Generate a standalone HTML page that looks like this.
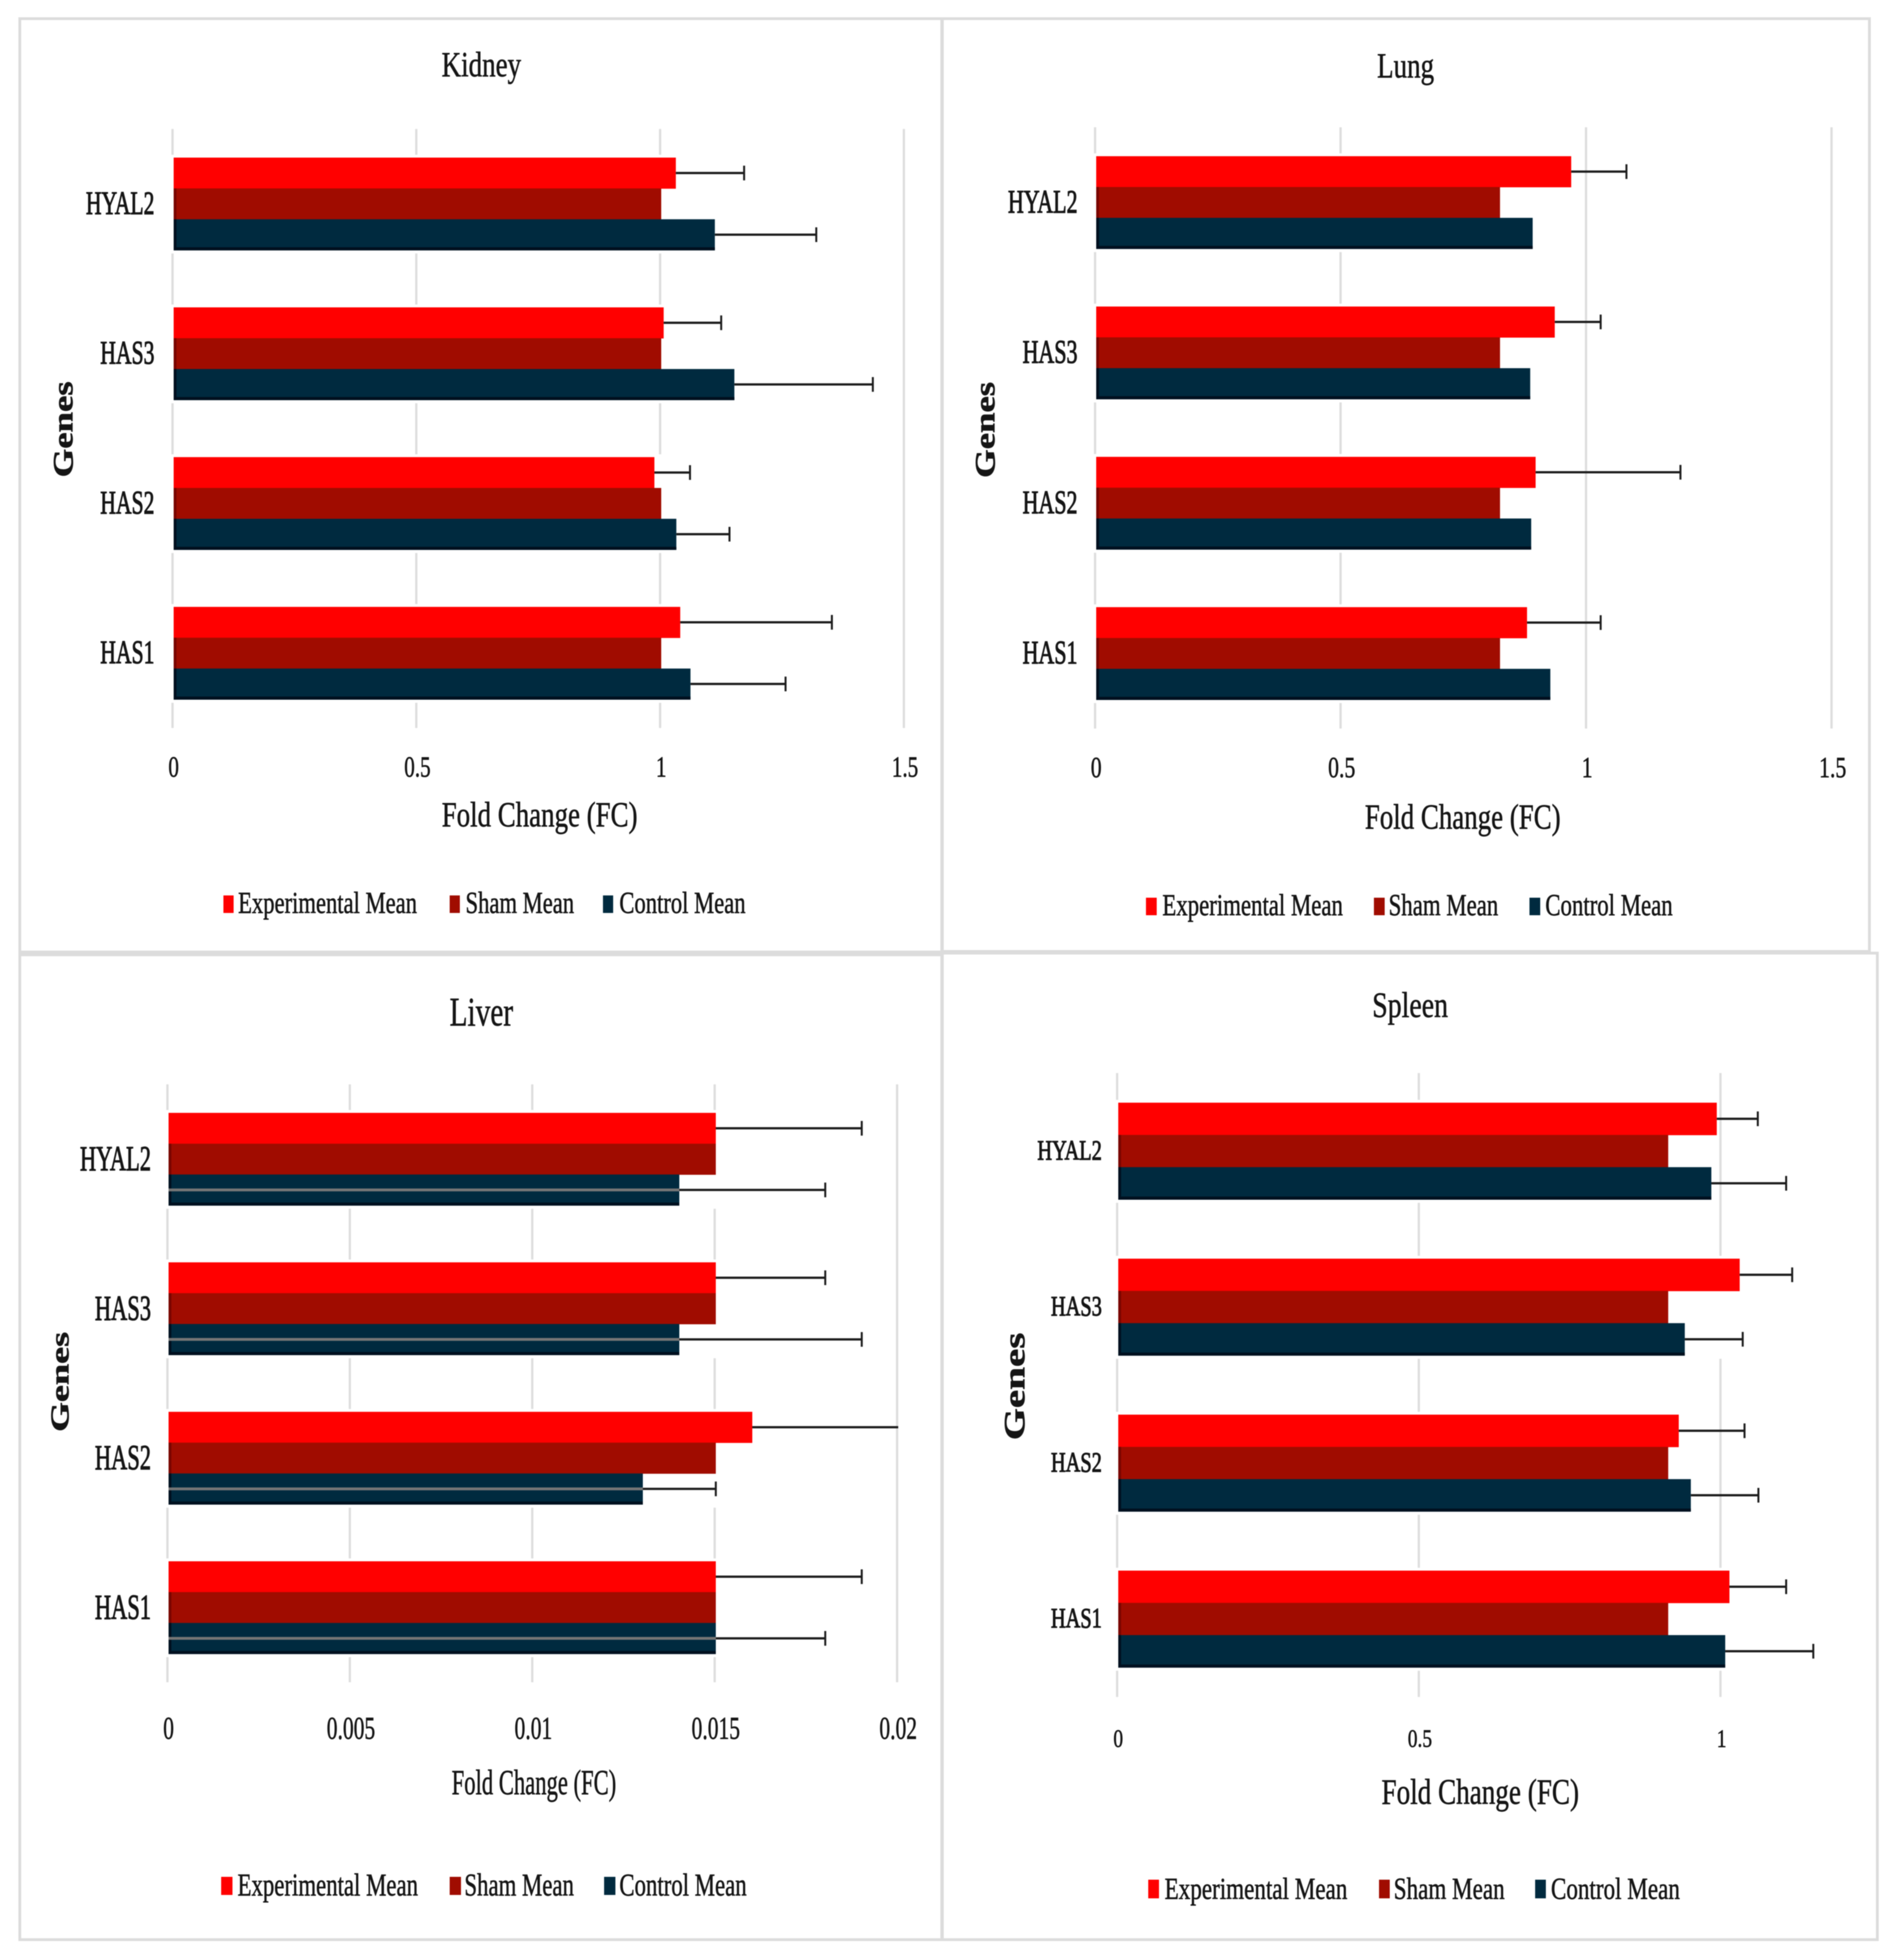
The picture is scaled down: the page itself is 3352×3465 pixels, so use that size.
<!DOCTYPE html>
<html lang="en">
<head>
<meta charset="utf-8">
<title>Gene fold change by organ</title>
<style>
html,body{margin:0;padding:0;background:#fff;}
svg{display:block;filter:blur(0.8px);}
text{font-family:"Liberation Serif","Times New Roman",serif;fill:#151515;stroke:#151515;stroke-width:0.9px;}
</style>
</head>
<body>
<svg id="fig" xmlns="http://www.w3.org/2000/svg" width="3352" height="3465" viewBox="0 0 3352 3465">
<rect x="0" y="0" width="3352" height="3465" fill="#ffffff"/>
</svg>
<script>
// Shared categories and series (categories run bottom to top on the axis)
const categories = ["HAS1", "HAS2", "HAS3", "HYAL2"];
const seriesNames = ["Experimental Mean", "Sham Mean", "Control Mean"];

// Kidney
const kidneyExperimental = [1.039, 0.986, 1.005, 1.03];
const kidneySham = [1, 1, 1, 1];
const kidneyControl = [1.06, 1.031, 1.15, 1.11];
const kidneyExperimentalError = [0.311, 0.073, 0.118, 0.14];
const kidneyControlError = [0.195, 0.109, 0.284, 0.208];
const kidneyTicks = [0, 0.5, 1, 1.5];
const kidneyTickLabels = ["0", "0.5", "1", "1.5"];

// Lung
const lungExperimental = [0.8775, 0.895, 0.934, 0.9675];
const lungSham = [0.8225, 0.8225, 0.8225, 0.8225];
const lungControl = [0.925, 0.886, 0.884, 0.889];
const lungExperimentalError = [0.15, 0.295, 0.0935, 0.1125];
const lungControlError = [0, 0, 0, 0];
const lungTicks = [0, 0.5, 1, 1.5];
const lungTickLabels = ["0", "0.5", "1", "1.5"];

// Liver
const liverExperimental = [0.015, 0.016, 0.015, 0.015];
const liverSham = [0.015, 0.015, 0.015, 0.015];
const liverControl = [0.015, 0.013, 0.014, 0.014];
const liverExperimentalError = [0.004, 0.004, 0.003, 0.004];
const liverControlError = [0.003, 0.002, 0.005, 0.004];
const liverTicks = [0, 0.005, 0.01, 0.015, 0.02];
const liverTickLabels = ["0", "0.005", "0.01", "0.015", "0.02"];

// Spleen
const spleenExperimental = [1.013, 0.929, 1.03, 0.992];
const spleenSham = [0.9115, 0.9115, 0.9115, 0.9115];
const spleenControl = [1.006, 0.949, 0.939, 0.983];
const spleenExperimentalError = [0.094, 0.109, 0.087, 0.068];
const spleenControlError = [0.146, 0.112, 0.096, 0.124];
const spleenTicks = [0, 0.5, 1];
const spleenTickLabels = ["0", "0.5", "1"];

const colors = ["#ff0000", "#a00c00", "#002a3f"];
const SVGNS = "http://www.w3.org/2000/svg";
const fig = document.getElementById("fig");

const panels = [
  {
    id: "kidney", title: "Kidney",
    box: [35, 33, 1665, 1683],
    exp: kidneyExperimental, sham: kidneySham, ctrl: kidneyControl,
    expErr: kidneyExperimentalError, ctrlErr: kidneyControlError,
    ticks: kidneyTicks, tickLabels: kidneyTickLabels,
    domainMax: 1.5, rangeX: [307, 1600], plotY: [228, 1287], barH: 54.5,
    titleGeo: { cx: 851, y: 135, size: 62, sx: 0.77 },
    tickGeo: { y: 1373, size: 52, sx: 0.72 },
    geneGeo: { right: 273, size: 58, sx: 0.66, dy: 18 },
    yTitle: { x: 128, cy: 759, size: 50, sx: 1.3 },
    xTitle: { cx: 954, y: 1461, size: 62, sx: 0.767 },
    legend: { swatchX: [395, 795, 1066], textX: [421, 823, 1095], swatchY: 1583, swatchH: 31, swatchW: 18, y: 1614, size: 54, sx: 0.74 },
    grayInBar: false
  },
  {
    id: "lung", title: "Lung",
    box: [1666, 33, 3305, 1682],
    exp: lungExperimental, sham: lungSham, ctrl: lungControl,
    expErr: lungExperimentalError, ctrlErr: lungControlError,
    ticks: lungTicks, tickLabels: lungTickLabels,
    domainMax: 1.5, rangeX: [1938, 3240], plotY: [225, 1288], barH: 54.5,
    titleGeo: { cx: 2485, y: 137, size: 62, sx: 0.77 },
    tickGeo: { y: 1374, size: 52, sx: 0.74 },
    geneGeo: { right: 1905, size: 58, sx: 0.67, dy: 18 },
    yTitle: { x: 1758, cy: 760, size: 50, sx: 1.3 },
    xTitle: { cx: 2586, y: 1465, size: 62, sx: 0.767 },
    legend: { swatchX: [2026, 2429, 2704], textX: [2055, 2455, 2732], swatchY: 1587, swatchH: 31, swatchW: 19, y: 1618, size: 54, sx: 0.747 },
    grayInBar: false
  },
  {
    id: "liver", title: "Liver",
    box: [35, 1688, 1665, 3429],
    exp: liverExperimental, sham: liverSham, ctrl: liverControl,
    expErr: liverExperimentalError, ctrlErr: liverControlError,
    ticks: liverTicks, tickLabels: liverTickLabels,
    domainMax: 0.02, rangeX: [298, 1588], plotY: [1917, 2974], barH: 54.5,
    titleGeo: { cx: 851, y: 1813, size: 72, sx: 0.72 },
    tickGeo: { y: 3074, size: 56, sx: 0.68 },
    geneGeo: { right: 267, size: 62, sx: 0.64, dy: 20 },
    yTitle: { x: 121, cy: 2443, size: 46, sx: 1.47 },
    xTitle: { cx: 944, y: 3172, size: 62, sx: 0.645 },
    legend: { swatchX: [391, 795, 1068], textX: [420, 821, 1095], swatchY: 3318, swatchH: 32, swatchW: 20, y: 3351, size: 56, sx: 0.72 },
    grayInBar: true
  },
  {
    id: "spleen", title: "Spleen",
    box: [1666, 1685, 3319, 3429],
    exp: spleenExperimental, sham: spleenSham, ctrl: spleenControl,
    expErr: spleenExperimentalError, ctrlErr: spleenControlError,
    ticks: spleenTicks, tickLabels: spleenTickLabels,
    domainMax: 1.2, rangeX: [1977, 3257], plotY: [1897, 3000], barH: 57,
    titleGeo: { cx: 2493, y: 1798, size: 64, sx: 0.77 },
    tickGeo: { y: 3088, size: 44, sx: 0.78 },
    geneGeo: { right: 1948, size: 50, sx: 0.72, dy: 15 },
    yTitle: { x: 1811, cy: 2451, size: 52, sx: 1.4 },
    xTitle: { cx: 2617, y: 3189, size: 64, sx: 0.75 },
    legend: { swatchX: [2030, 2438, 2714], textX: [2059, 2464, 2742], swatchY: 3323, swatchH: 33, swatchW: 19, y: 3357, size: 54, sx: 0.756 },
    grayInBar: false
  }
];

function make(tag, attrs, parent) {
  const el = document.createElementNS(SVGNS, tag);
  for (const k in attrs) el.setAttribute(k, attrs[k]);
  parent.appendChild(el);
  return el;
}

function label(parent, str, x, y, size, sx, anchor, weight, rotate) {
  const t = rotate ? "translate(" + x + "," + y + ") rotate(-90) scale(" + sx + ",1)"
                   : "translate(" + x + "," + y + ") scale(" + sx + ",1)";
  const el = make("text", { transform: t, "font-size": size, "text-anchor": anchor, "font-weight": weight || "normal" }, parent);
  el.textContent = str;
  return el;
}

panels.forEach(function (p) {
  const xScale = function (v) { return p.rangeX[0] + (v / p.domainMax) * (p.rangeX[1] - p.rangeX[0]); };
  const band = (p.plotY[1] - p.plotY[0]) / categories.length;
  const yBand = function (i) { return p.plotY[1] - (i + 0.5) * band; };

  const g = make("g", {}, fig);
  
  

  const frame = make("rect", { x: p.box[0], y: p.box[1], width: p.box[2] - p.box[0], height: p.box[3] - p.box[1], fill: "#ffffff", stroke: "#dcdcdc", "stroke-width": 5 }, g);
  
  

  const title = label(g, p.title, p.titleGeo.cx, p.titleGeo.y, p.titleGeo.size, p.titleGeo.sx, "middle");
  
  

  // Gridlines and tick labels
  p.ticks.forEach(function (tick, i) {
    const line = make("line", { x1: xScale(tick) - 2, x2: xScale(tick) - 2, y1: p.plotY[0], y2: p.plotY[1], stroke: "#dedede", "stroke-width": 4 }, g);
    
    
    const tl = label(g, p.tickLabels[i], xScale(tick), p.tickGeo.y, p.tickGeo.size, p.tickGeo.sx, "middle");
    
    
  });

  // Bars per category
  categories.forEach(function (cat, i) {
    const cy = yBand(i);
    const top = cy - 1.5 * p.barH;
    const vals = [p.exp[i], p.sham[i], p.ctrl[i]];
    const errs = [p.expErr[i], 0, p.ctrlErr[i]];

    const halo = make("rect", { x: p.rangeX[0] - 8, y: top - 5, width: xScale(Math.max.apply(null, vals)) - p.rangeX[0] + 8, height: 3 * p.barH + 11, fill: "#ffffff" }, g);
    
    

    vals.forEach(function (v, s) {
      const by = top + s * p.barH;
      const bar = make("rect", { x: xScale(0), y: by, width: xScale(v) - xScale(0), height: p.barH + 0.5, fill: colors[s] }, g);
      
      
      if (s === 1) {
        const leftEdge = make("rect", { x: xScale(0), y: by, width: 5, height: p.barH, fill: "#7a0500" }, g);
        
        
      }
      if (s === 2) {
        const edge = make("rect", { x: xScale(0), y: by + p.barH - 5, width: xScale(v) - xScale(0), height: 5.5, fill: "#00101f" }, g);
        
        
        const side = make("rect", { x: xScale(0), y: by, width: 5, height: p.barH, fill: "#00101f" }, g);
        
        
      }
    });

    errs.forEach(function (e, s) {
      if (!e) return;
      const ey = top + (s + 0.5) * p.barH;
      if (s === 2 && p.grayInBar) {
        const through = make("line", { x1: xScale(0), x2: xScale(vals[s]), y1: ey, y2: ey, stroke: "#767676", "stroke-width": 5 }, g);
        
        
      }
      const end = vals[s] + e;
      const stem = make("line", { x1: xScale(vals[s]), x2: xScale(end), y1: ey, y2: ey, stroke: "#1c1c1c", "stroke-width": 4 }, g);
      
      
      if (end < p.domainMax - 1e-9) {
        const cap = make("line", { x1: xScale(end), x2: xScale(end), y1: ey - 13, y2: ey + 13, stroke: "#1c1c1c", "stroke-width": 3.5 }, g);
        
        
      }
    });

    const cl = label(g, cat, p.geneGeo.right, cy + p.geneGeo.dy, p.geneGeo.size, p.geneGeo.sx, "end");
    cl.setAttribute('stroke-width', '1.6');
    cl.style.strokeWidth = '1.6px';
    
    
  });

  const yt = label(g, "Genes", p.yTitle.x, p.yTitle.cy, p.yTitle.size, p.yTitle.sx, "middle", "bold", true);
  
  

  const xt = label(g, "Fold Change (FC)", p.xTitle.cx, p.xTitle.y, p.xTitle.size, p.xTitle.sx, "middle");
  
  

  // Legend
  seriesNames.forEach(function (name, s) {
    const sw = make("rect", { x: p.legend.swatchX[s], y: p.legend.swatchY, width: p.legend.swatchW, height: p.legend.swatchH, fill: colors[s] }, g);
    
    
    const lt = label(g, name, p.legend.textX[s], p.legend.y, p.legend.size, p.legend.sx, "start");
    
    
  });
});
</script>
</body>
</html>
